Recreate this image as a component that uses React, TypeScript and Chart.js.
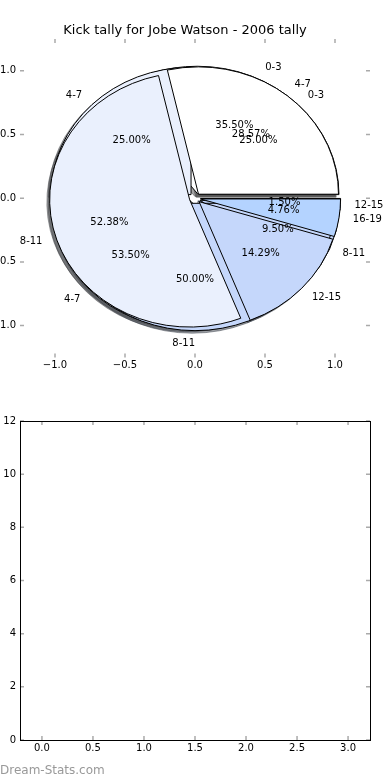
import React, { useEffect, useRef } from 'react';
import { Chart, registerables } from 'chart.js';

Chart.register(...registerables);

const FONT = "'DejaVu Sans', Verdana, sans-serif";
const TITLE = 'Kick tally for Jobe Watson - 2006 tally';

// Pie layers (drawn in this order; the last one sits on top)
const PIE_A_LABELS = ['0-3', '4-7', '8-11', '12-15'];
const PIE_A_VALUES = [35.5, 53.5, 9.5, 1.5];
const PIE_C_LABELS = ['0-3', '4-7', '8-11'];
const PIE_C_VALUES = [25, 25, 50];
const PIE_B_LABELS = ['4-7', '8-11', '12-15', '16-19'];
const PIE_B_VALUES = [28.57, 52.38, 14.29, 4.76];

const SLICE_COLORS = ['#ffffff', '#eaf0fd', '#c5d7fb', '#b4d3ff'];
const EXPLODE = 0.04;

const PIE_TICKS = [-1, -0.5, 0, 0.5, 1];
const LOWER_X_TICKS = [0, 0.5, 1, 1.5, 2, 2.5, 3];
const LOWER_Y_TICKS = [0, 2, 4, 6, 8, 10, 12];

const PIES = [
  { labels: PIE_A_LABELS, values: PIE_A_VALUES },
  { labels: PIE_C_LABELS, values: PIE_C_VALUES },
  { labels: PIE_B_LABELS, values: PIE_B_VALUES },
];

Chart.defaults.font.family = FONT;
Chart.defaults.font.size = 10;
Chart.defaults.color = '#000';

function fmtTick(v: number) {
  const s = Math.abs(v).toFixed(1);
  return v < 0 ? '\u2212' + s : s;
}

function layoutWedges(labels: string[], values: number[]) {
  const total = values.reduce((a, b) => a + b, 0);
  let acc = 0;
  return values.map((v, i) => {
    const t1 = (acc / total) * 2 * Math.PI;
    acc += v;
    const t2 = (acc / total) * 2 * Math.PI;
    const tm = (t1 + t2) / 2;
    return {
      t1,
      t2,
      tm,
      cx: EXPLODE * Math.cos(tm),
      cy: EXPLODE * Math.sin(tm),
      color: SLICE_COLORS[i % SLICE_COLORS.length],
      label: labels[i],
      pct: ((v / total) * 100).toFixed(2) + '%',
    };
  });
}

function shadowColor(hex: string) {
  const r = parseInt(hex.slice(1, 3), 16);
  const g = parseInt(hex.slice(3, 5), 16);
  const b = parseInt(hex.slice(5, 7), 16);
  return `rgba(${Math.round(r * 0.3)},${Math.round(g * 0.3)},${Math.round(b * 0.3)},0.5)`;
}

const piePlugin = {
  id: 'pies',
  afterDatasetsDraw(chart: any) {
    const { ctx } = chart;
    const xs = chart.scales.x;
    const ys = chart.scales.y;
    const X = (v: number) => xs.getPixelForValue(v);
    const Y = (v: number) => ys.getPixelForValue(v);
    const path = (cx: number, cy: number, t1: number, t2: number) => {
      const x0 = X(cx);
      const y0 = Y(cy);
      const rx = X(cx + 1) - x0;
      const ry = y0 - Y(cy + 1);
      ctx.beginPath();
      ctx.moveTo(x0, y0);
      ctx.ellipse(x0, y0, rx, ry, 0, -t1, -t2, true);
      ctx.closePath();
    };
    const all = PIES.map((p) => layoutWedges(p.labels, p.values));
    ctx.save();
    // shadows (below all wedges)
    all.forEach((ws) =>
      ws.forEach((w) => {
        path(w.cx - 0.02, w.cy - 0.02, w.t1, w.t2);
        ctx.fillStyle = shadowColor(w.color);
        ctx.strokeStyle = shadowColor(w.color);
        ctx.lineWidth = 1;
        ctx.fill();
        ctx.stroke();
      })
    );
    // wedges
    all.forEach((ws) =>
      ws.forEach((w) => {
        path(w.cx, w.cy, w.t1, w.t2);
        ctx.fillStyle = w.color;
        ctx.fill();
        ctx.strokeStyle = '#000';
        ctx.lineWidth = 1;
        ctx.lineJoin = 'miter';
        ctx.stroke();
      })
    );
    // texts
    ctx.font = `10px ${FONT}`;
    ctx.fillStyle = '#000';
    ctx.textBaseline = 'middle';
    all.forEach((ws) =>
      ws.forEach((w) => {
        const xt = w.cx + 1.1 * Math.cos(w.tm);
        const yt = w.cy + 1.1 * Math.sin(w.tm);
        ctx.textAlign = xt > 0 ? 'left' : 'right';
        ctx.fillText(w.label, X(xt), Y(yt));
        const xp = w.cx + 0.6 * Math.cos(w.tm);
        const yp = w.cy + 0.6 * Math.sin(w.tm);
        ctx.textAlign = 'center';
        ctx.fillText(w.pct, X(xp), Y(yp));
      })
    );
    ctx.restore();
  },
};

const frameTicksPlugin = {
  id: 'frameTicks',
  afterDraw(chart: any, _args: any, opts: any) {
    const { ctx, chartArea: a } = chart;
    const xs = chart.scales.x;
    const ys = chart.scales.y;
    const L = 4;
    ctx.save();
    ctx.strokeStyle = '#aaaaaa';
    ctx.lineWidth = 1.5;
    ctx.beginPath();
    (opts.xTicks as number[]).forEach((v) => {
      const x = xs.getPixelForValue(v);
      ctx.moveTo(x, a.top);
      ctx.lineTo(x, a.top + L);
      ctx.moveTo(x, a.bottom);
      ctx.lineTo(x, a.bottom - L);
    });
    (opts.yTicks as number[]).forEach((v) => {
      const y = ys.getPixelForValue(v);
      ctx.moveTo(a.left, y);
      ctx.lineTo(a.left + L, y);
      ctx.moveTo(a.right, y);
      ctx.lineTo(a.right - L, y);
    });
    ctx.stroke();
    if (opts.frame) {
      ctx.strokeStyle = '#000';
      ctx.lineWidth = 1;
      ctx.strokeRect(
        Math.round(a.left) + 0.5,
        Math.round(a.top) + 0.5,
        Math.round(a.right - a.left),
        Math.round(a.bottom - a.top)
      );
    }
    ctx.restore();
  },
};

export default function App() {
  const topRef = useRef<HTMLCanvasElement>(null);
  const botRef = useRef<HTMLCanvasElement>(null);

  useEffect(() => {
    const top = new Chart(topRef.current as HTMLCanvasElement, {
      type: 'scatter',
      data: { datasets: [{ data: [] }] },
      options: {
        responsive: false,
        animation: false,
        layout: { padding: { left: 0, right: 20, top: 0, bottom: 0 } },
        plugins: {
          legend: { display: false },
          tooltip: { enabled: false },
          title: {
            display: true,
            text: TITLE,
            color: '#000',
            font: { size: 13, weight: 'normal', family: FONT },
            padding: { top: 22.5, bottom: 0.9 },
          },
          frameTicks: { xTicks: PIE_TICKS, yTicks: PIE_TICKS, frame: false },
        } as any,
        scales: {
          x: {
            type: 'linear',
            min: -1.25,
            max: 1.25,
            grid: { display: false, drawTicks: false },
            border: { display: false },
            afterBuildTicks: (s: any) => {
              s.ticks = PIE_TICKS.map((v) => ({ value: v }));
            },
            afterFit: (s: any) => {
              s.height = 22.6;
            },
            ticks: { padding: 2, color: '#000', maxRotation: 0, autoSkip: false, callback: (v: any) => fmtTick(Number(v)) },
          },
          y: {
            type: 'linear',
            min: -1.25,
            max: 1.25,
            grid: { display: false, drawTicks: false },
            border: { display: false },
            afterBuildTicks: (s: any) => {
              s.ticks = PIE_TICKS.map((v) => ({ value: v }));
            },
            afterFit: (s: any) => {
              s.width = 20;
            },
            ticks: { padding: 4, color: '#000', autoSkip: false, callback: (v: any) => fmtTick(Number(v)) },
          },
        },
      },
      plugins: [piePlugin, frameTicksPlugin],
    } as any);

    const bot = new Chart(botRef.current as HTMLCanvasElement, {
      type: 'scatter',
      data: { datasets: [{ data: [] }] },
      options: {
        responsive: false,
        animation: false,
        layout: { padding: { left: 0, right: 20, top: 41, bottom: 0 } },
        plugins: {
          legend: { display: false },
          tooltip: { enabled: false },
          frameTicks: { xTicks: LOWER_X_TICKS, yTicks: LOWER_Y_TICKS, frame: true },
        } as any,
        scales: {
          x: {
            type: 'linear',
            min: -0.215,
            max: 3.215,
            grid: { display: false, drawTicks: false },
            border: { display: false },
            afterBuildTicks: (s: any) => {
              s.ticks = LOWER_X_TICKS.map((v) => ({ value: v }));
            },
            afterFit: (s: any) => {
              s.height = 40;
            },
            ticks: { padding: 2.5, color: '#000', maxRotation: 0, autoSkip: false, callback: (v: any) => Number(v).toFixed(1) },
          },
          y: {
            type: 'linear',
            min: 0,
            max: 12,
            grid: { display: false, drawTicks: false },
            border: { display: false },
            afterBuildTicks: (s: any) => {
              s.ticks = LOWER_Y_TICKS.map((v) => ({ value: v }));
            },
            afterFit: (s: any) => {
              s.width = 20;
            },
            ticks: { padding: 4, color: '#000', autoSkip: false, callback: (v: any) => String(v) },
          },
        },
      },
      plugins: [frameTicksPlugin],
    } as any);

    return () => {
      top.destroy();
      bot.destroy();
    };
  }, []);

  return (
    <div style={{ position: 'absolute', left: 0, top: 0, width: 390, height: 780, background: '#fff', overflow: 'hidden' }}>
      <canvas ref={topRef} width={390} height={380} style={{ position: 'absolute', left: 0, top: 0, display: 'block' }} />
      <canvas ref={botRef} width={390} height={400} style={{ position: 'absolute', left: 0, top: 380, display: 'block' }} />
      <div
        style={{
          position: 'absolute',
          left: 0,
          top: 763,
          fontFamily: FONT,
          fontSize: 12,
          lineHeight: '14px',
          color: '#999999',
          whiteSpace: 'nowrap',
        }}
      >
        Dream-Stats.com
      </div>
    </div>
  );
}
